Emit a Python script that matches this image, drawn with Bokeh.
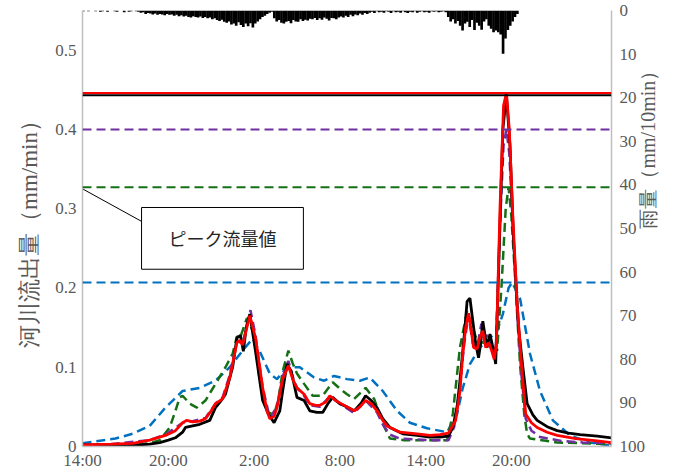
import math
from bokeh.plotting import figure
from bokeh.models import Range1d, LinearAxis, FixedTicker, Span, BoxAnnotation, Label
from bokeh.embed import file_html
from bokeh.resources import INLINE

# ---------------- data ----------------
x_ticks = [0, 6, 12, 18, 24, 30]
x_tick_labels = ["14:00", "20:00", "2:00", "8:00", "14:00", "20:00"]
y_ticks = [0, 0.1, 0.2, 0.3, 0.4, 0.5]
y_tick_labels = ["0", "0.1", "0.2", "0.3", "0.4", "0.5"]
rain_ticks = list(range(0, 101, 10))

rain_rows = [
    [0.2, 0, 0.2, 0, 0, 0.2],
    [0, 0.3, 0.2, 0, 0.3, 0],
    [0, 0.2, 0.3, 0, 0, 0.4],
    [0, 0.3, 0.2, 0, 0.2, 0.3],
    [0.5, 0.4, 0.8, 0.6, 0.7, 0.9],
    [0.7, 1.0, 0.8, 0.9, 1.1, 0.8],
    [1.0, 0.9, 1.2, 1.0, 1.3, 1.1],
    [1.4, 1.2, 1.5, 1.6, 1.3, 1.5],
    [1.6, 1.4, 1.7, 1.5, 1.8, 1.6],
    [2.0, 1.8, 2.2, 2.4, 2.1, 2.6],
    [2.8, 2.5, 3.2, 3.0, 3.5, 2.7],
    [3.3, 3.8, 3.0, 3.6, 2.9, 3.9],
    [3.0, 2.5, 2.0, 1.5, 1.2, 0.8],
    [0.5, 0.3, 1.8, 2.5, 2.2, 2.8],
    [3.0, 2.6, 2.4, 2.9, 2.2, 2.5],
    [2.6, 2.0, 2.4, 2.1, 2.3, 1.9],
    [2.0, 1.7, 2.2, 1.8, 2.1, 1.6],
    [1.9, 2.3, 1.7, 1.8, 2.0, 1.6],
    [1.4, 1.6, 1.2, 1.5, 1.0, 1.3],
    [0.9, 1.1, 0.7, 1.0, 0.6, 0.8],
    [0.5, 0.3, 0.6, 0.2, 0.4, 0.3],
    [0.5, 0.2, 0.3, 0.6, 0.2, 0.4],
    [0.3, 0.5, 0.2, 0.4, 0.6, 0.3],
    [0.4, 0.2, 0.5, 0.3, 0.2, 0.4],
    [0.3, 0.5, 0.2, 0.3, 0.2, 0.4],
    [0.3, 0.2, 0.4, 1.5, 2.5, 2.0],
    [3.0, 2.4, 3.5, 4.6, 3.0, 2.6],
    [3.8, 2.2, 4.5, 2.8, 3.5, 4.4],
    [2.5, 2.0, 3.5, 4.2, 5.0, 4.6],
    [5.0, 5.5, 9.9, 6.4, 4.5, 3.5],
    [2.5, 1.5, 0.8, 0, 0, 0],
]

black_obs = [(0, 0.002), (2, 0.002), (4, 0.002), (4.7, 0.003), (5.4, 0.005), (6.0, 0.008), (6.5, 0.011),
             (7.0, 0.018), (7.2, 0.024), (7.7, 0.026), (8.2, 0.028), (8.9, 0.033), (9.3, 0.049), (9.7, 0.058),
             (10.0, 0.066), (10.5, 0.1), (10.8, 0.137), (11.05, 0.14), (11.25, 0.12), (11.45, 0.15),
             (11.7, 0.167), (12.1, 0.12), (12.6, 0.058), (13.0, 0.041), (13.4, 0.03), (13.8, 0.045),
             (14.0, 0.07), (14.3, 0.104), (14.6, 0.095), (15.0, 0.062), (15.5, 0.058), (15.9, 0.045),
             (16.4, 0.043), (16.8, 0.043), (17.2, 0.055), (17.5, 0.062), (18.0, 0.054), (18.5, 0.05),
             (19.0, 0.045), (19.5, 0.055), (19.8, 0.064), (20.2, 0.058), (20.6, 0.049), (21.0, 0.035),
             (21.5, 0.024), (22.4, 0.016), (23.4, 0.014), (24.3, 0.012), (25.0, 0.012), (25.6, 0.013),
             (25.9, 0.024), (26.2, 0.05), (26.4, 0.083), (26.7, 0.14), (26.9, 0.183), (27.1, 0.187),
             (27.3, 0.158), (27.5, 0.13), (27.7, 0.112), (27.85, 0.13), (28.0, 0.158), (28.15, 0.14),
             (28.3, 0.125), (28.5, 0.142), (28.7, 0.125), (28.9, 0.104), (29.15, 0.25), (29.4, 0.40),
             (29.65, 0.443), (29.9, 0.38), (30.15, 0.26), (30.5, 0.15), (30.8, 0.10), (31.1, 0.054),
             (31.5, 0.04), (31.8, 0.033), (32.5, 0.025), (33.2, 0.02), (34.0, 0.017), (34.8, 0.015),
             (36.0, 0.013), (37.0, 0.011)]

red_calc = [(0, 0.002), (2, 0.003), (3.5, 0.004), (4.7, 0.008), (5.8, 0.014), (6.5, 0.02), (7.0, 0.03),
            (7.3, 0.033), (7.7, 0.031), (8.2, 0.032), (8.6, 0.035), (9.0, 0.045), (9.3, 0.054), (9.8, 0.06),
            (10.3, 0.087), (10.8, 0.131), (11.0, 0.134), (11.2, 0.128), (11.7, 0.165), (12.1, 0.137),
            (12.6, 0.074), (12.9, 0.045), (13.1, 0.035), (13.4, 0.038), (13.6, 0.049), (14.0, 0.085),
            (14.4, 0.102), (14.7, 0.085), (15.0, 0.074), (15.5, 0.066), (15.9, 0.054), (16.3, 0.052),
            (16.6, 0.052), (17.0, 0.056), (17.3, 0.064), (17.7, 0.058), (18.0, 0.055), (18.5, 0.05),
            (19.0, 0.045), (19.4, 0.05), (19.8, 0.058), (20.2, 0.054), (20.6, 0.045), (21.0, 0.033),
            (21.3, 0.026), (22.2, 0.018), (23.4, 0.016), (24.3, 0.014), (25.0, 0.015), (25.6, 0.017),
            (26.1, 0.033), (26.4, 0.07), (26.6, 0.117), (26.8, 0.15), (27.0, 0.168), (27.2, 0.145),
            (27.35, 0.125), (27.6, 0.123), (27.8, 0.138), (28.0, 0.146), (28.1, 0.135), (28.2, 0.125),
            (28.4, 0.131), (28.6, 0.122), (28.8, 0.11), (28.95, 0.13), (29.2, 0.30), (29.45, 0.43),
            (29.65, 0.446), (29.85, 0.40), (30.1, 0.29), (30.4, 0.18), (30.7, 0.104), (31.0, 0.041),
            (31.4, 0.03), (31.8, 0.024), (32.5, 0.018), (33.2, 0.014), (34.5, 0.01), (36.0, 0.007),
            (37.0, 0.005)]

purple_calc = [(0, 0.002), (2, 0.003), (4.7, 0.008), (5.8, 0.015), (7.0, 0.03), (7.7, 0.032), (8.6, 0.036),
               (9.3, 0.054), (9.8, 0.062), (10.3, 0.09), (10.8, 0.133), (11.2, 0.13), (11.75, 0.172),
               (12.1, 0.14), (12.6, 0.075), (13.1, 0.036), (13.6, 0.05), (14.0, 0.088), (14.4, 0.108),
               (14.7, 0.088), (15.0, 0.074), (15.5, 0.064), (15.9, 0.052), (16.6, 0.05), (17.3, 0.063),
               (18.0, 0.054), (19.0, 0.042), (19.8, 0.058), (20.6, 0.043), (21.0, 0.028), (21.5, 0.015),
               (22.2, 0.01), (24.3, 0.008), (25.6, 0.008), (26.0, 0.025), (26.4, 0.075), (26.7, 0.13),
               (27.0, 0.165), (27.3, 0.13), (27.6, 0.125), (27.9, 0.155), (28.1, 0.14), (28.3, 0.14),
               (28.6, 0.128), (28.9, 0.12), (29.2, 0.28), (29.45, 0.38), (29.65, 0.40), (29.85, 0.37),
               (30.1, 0.28), (30.4, 0.17), (30.7, 0.09), (31.0, 0.035), (31.4, 0.02), (32.0, 0.012),
               (33.5, 0.007), (35.0, 0.005), (37.0, 0.004)]

green_calc = [(0, 0.001), (3, 0.002), (4.7, 0.004), (5.4, 0.008), (6.1, 0.024), (6.5, 0.045), (6.8, 0.062),
              (7.0, 0.064), (7.5, 0.054), (8.0, 0.049), (8.6, 0.058), (9.3, 0.079), (10.0, 0.1), (10.5, 0.117),
              (10.8, 0.139), (11.0, 0.136), (11.5, 0.162), (12.0, 0.142), (12.4, 0.083), (12.8, 0.05),
              (13.0, 0.043), (13.4, 0.04), (13.7, 0.06), (14.0, 0.095), (14.4, 0.121), (14.7, 0.105),
              (15.0, 0.092), (15.5, 0.079), (16.1, 0.064), (16.8, 0.064), (17.5, 0.081), (18.0, 0.073),
              (18.5, 0.066), (19.0, 0.06), (19.8, 0.074), (20.4, 0.06), (21.0, 0.029), (21.5, 0.01),
              (22.5, 0.008), (24.3, 0.008), (25.5, 0.008), (25.9, 0.041), (26.4, 0.125), (26.9, 0.171),
              (27.2, 0.155), (27.6, 0.133), (28.3, 0.13), (29.0, 0.121), (29.3, 0.2), (29.6, 0.30),
              (29.8, 0.327), (30.0, 0.29), (30.3, 0.2), (30.6, 0.104), (30.9, 0.04), (31.1, 0.016),
              (31.3, 0.01), (33.2, 0.005), (37.0, 0.003)]

blue_calc = [(0, 0.004), (2.3, 0.01), (3.5, 0.016), (4.7, 0.026), (5.8, 0.049), (7.0, 0.07), (8.2, 0.074),
             (9.3, 0.083), (10.3, 0.1), (11.2, 0.121), (11.9, 0.136), (12.4, 0.12), (13.1, 0.092),
             (13.6, 0.085), (14.3, 0.1), (15.2, 0.1), (16.2, 0.087), (16.9, 0.083), (17.6, 0.089),
             (18.5, 0.085), (19.4, 0.083), (20.1, 0.087), (21.0, 0.07), (22.0, 0.045), (22.9, 0.03),
             (24.1, 0.023), (25.5, 0.018), (26.2, 0.041), (26.6, 0.074), (27.1, 0.104), (27.8, 0.125),
             (28.5, 0.137), (29.0, 0.146), (29.4, 0.167), (29.8, 0.2), (30.05, 0.207), (30.6, 0.187),
             (31.3, 0.117), (32.0, 0.07), (32.9, 0.033), (34.1, 0.014), (35.5, 0.005), (37.0, 0.001)]

annotation_text = "ピーク流量値"
left_label = "河川流出量（mm/min）"
right_label = "雨量（mm/10min）"

# ---------------- figure ----------------
GRAY = "#595959"
AXIS = "#BFBFBF"
SERIF = "Times New Roman"

p = figure(width=673, height=472, x_range=Range1d(0, 37), y_range=Range1d(0, 0.55),
           output_backend="svg", toolbar_location=None,
           min_border_left=82, min_border_right=62, min_border_top=10, min_border_bottom=0)
p.extra_y_ranges = {"rain": Range1d(100, 0)}
p.outline_line_color = None
p.xgrid.visible = False
p.ygrid.visible = False
p.background_fill_color = "white"
p.border_fill_color = "white"

def style_axis(ax):
    ax.axis_line_color = AXIS
    ax.axis_line_width = 1.5
    ax.major_tick_line_color = None
    ax.minor_tick_line_color = None
    ax.major_tick_out = 0
    ax.major_tick_in = 0
    ax.minor_tick_out = 0
    ax.minor_tick_in = 0
    ax.major_label_text_font = SERIF
    ax.major_label_text_font_size = "17px"
    ax.major_label_text_color = GRAY
    ax.axis_label_text_font = SERIF
    ax.axis_label_text_font_style = "normal"
    ax.axis_label_text_color = GRAY

xax = p.xaxis[0]
xax.ticker = FixedTicker(ticks=x_ticks)
xax.major_label_overrides = {t: l for t, l in zip(x_ticks, x_tick_labels)}
style_axis(xax)
xax.major_label_standoff = 4

yax = p.yaxis[0]
yax.ticker = FixedTicker(ticks=y_ticks)
yax.major_label_overrides = {t: l for t, l in zip(y_ticks, y_tick_labels)}
style_axis(yax)
yax.major_label_standoff = 6
yax.axis_label = left_label
yax.axis_label_text_font_size = "23px"
yax.axis_label_standoff = 10

rax = LinearAxis(y_range_name="rain", ticker=FixedTicker(ticks=rain_ticks))
style_axis(rax)
rax.major_label_standoff = 8
rax.axis_label = right_label
rax.axis_label_text_font_size = "20px"
rax.axis_label_standoff = 0
rax.axis_label_orientation = math.pi / 2
p.add_layout(rax, "right")

rain = [v for row in rain_rows for v in row]
rain_t = [(i + 0.5) / 6 for i in range(len(rain))]
p.vbar(x=rain_t, top=rain, bottom=0, width=1.12 / 6, y_range_name="rain",
       fill_color="black", line_color=None)

series = [
    (blue_calc, "#0070C0", "9 5", 2.5),
    (green_calc, "#157015", "9 5", 2.5),
    (purple_calc, "#7030A0", "9 5", 2.5),
    (black_obs, "black", "solid", 2.8),
    (red_calc, "#FF0000", "solid", 2.8),
]
for data, col, dash, lw in series:
    xs = [d[0] for d in data]
    ys = [d[1] for d in data]
    p.line(xs, ys, line_color=col, line_width=lw, line_dash=dash)

for data, col, dash, lw in [(blue_calc, "#0070C0", "9 5", 2), (green_calc, "#157015", "9 5", 2),
                            (purple_calc, "#7030A0", "9 5", 2), (black_obs, "black", "solid", 2),
                            (red_calc, "#FF0000", "solid", 2)]:
    peak = max(d[1] for d in data)
    p.add_layout(Span(location=peak, dimension="width", line_color=col, line_width=lw, line_dash=dash))

p.segment(x0=[0], y0=[0.325], x1=[4.13], y1=[0.284], line_color="black", line_width=1)
p.add_layout(BoxAnnotation(left=4.13, right=15.45, bottom=0.2236, top=0.3015,
                           fill_color="white", fill_alpha=1, line_color="black", line_width=1,
                           line_alpha=1))
p.add_layout(Label(x=9.79, y=0.2625, text=annotation_text, text_align="center", text_baseline="middle",
                   text_font="Noto Sans CJK JP", text_font_size="18px", text_color="#262626"))

open("out.html", "w").write(file_html(p, INLINE))
